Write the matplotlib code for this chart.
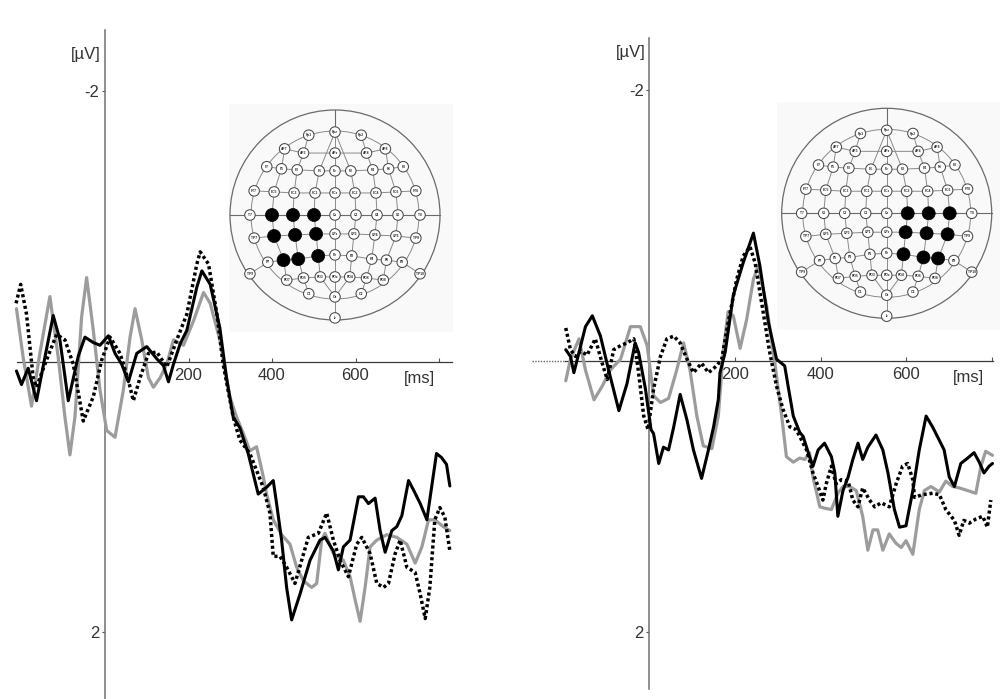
import matplotlib
matplotlib.use("Agg")
import matplotlib.pyplot as plt
from matplotlib.patches import Circle, Rectangle

plt.rcParams['font.family'] = ['Liberation Sans', 'DejaVu Sans']

# ---------------- data (time in ms, amplitude in microvolts) ----------------
# Left panel
L_black_t = [-212, -200, -184, -164, -144, -124, -108, -88, -64, -48, -28, -12, 8, 24, 40, 56, 76, 100, 124, 140,
             152, 164, 180, 196, 220, 232, 252, 275, 291, 307, 323, 343, 367, 387, 403, 411, 423, 435, 447, 467,
             491, 515, 527, 547, 559, 571, 587, 607, 619, 631, 647, 659, 671, 687, 699, 711, 727, 739, 755, 771,
             786, 794, 806, 818, 826]
L_black_v = [0.07, 0.17, 0.05, 0.29, -0.03, -0.34, -0.16, 0.29, -0.04, -0.18, -0.14, -0.12, -0.19, -0.06, 0.02, 0.15,
             -0.06, -0.11, -0.02, 0.03, 0.15, 0.02, -0.13, -0.23, -0.55, -0.67, -0.57, -0.25, 0.12, 0.41,
             0.49, 0.68, 0.98, 0.93, 0.88, 1.05, 1.32, 1.67, 1.91, 1.72, 1.47, 1.32, 1.30, 1.40, 1.54, 1.37,
             1.32, 1.00, 1.00, 1.05, 1.01, 1.25, 1.41, 1.25, 1.22, 1.14, 0.88, 0.95, 1.05, 1.17, 0.85, 0.68,
             0.71, 0.76, 0.92]
L_gray_t = [-212, -196, -176, -156, -132, -112, -96, -84, -72, -56, -44, -28, -12, 4, 24, 44, 60, 72, 88, 104,
            116, 132, 148, 164, 188, 212, 236, 252, 275, 299, 315, 331, 347, 363, 379, 387, 403, 423, 443, 459,
            475, 495, 507, 519, 527, 547, 571, 587, 599, 611, 623, 635, 651, 675, 699, 723, 743, 759, 775, 790,
            810, 826]
L_gray_v = [-0.39, -0.03, 0.33, -0.06, -0.48, -0.03, 0.41, 0.69, 0.41, -0.33, -0.62, -0.23, 0.21, 0.51, 0.56, 0.21,
            -0.18, -0.39, -0.16, 0.12, 0.19, 0.12, 0.02, -0.16, -0.12, -0.30, -0.51, -0.43, -0.16, 0.26,
            0.41, 0.53, 0.66, 0.63, 0.85, 0.98, 1.17, 1.28, 1.35, 1.52, 1.62, 1.67, 1.64, 1.32, 1.27, 1.42,
            1.47, 1.59, 1.76, 1.92, 1.67, 1.37, 1.32, 1.28, 1.30, 1.35, 1.49, 1.37, 1.17, 1.17, 1.22, 1.25]
L_dot_t = [-213, -202, -188, -172, -164, -144, -116, -96, -76, -52, -28, -8, 12, 36, 56, 68, 84, 104, 124, 148,
           172, 196, 220, 228, 248, 268, 283, 307, 323, 347, 379, 395, 403, 419, 435, 455, 471, 487,
           511, 531, 547, 563, 583, 603, 615, 635, 651, 667, 679, 695, 707, 723, 743, 755, 767, 778, 790, 802,
           814, 826]
L_dot_v = [-0.43, -0.57, -0.35, 0.12, 0.19, 0.02, -0.20, -0.16, 0.02, 0.44, 0.26, -0.01, -0.18, -0.06, 0.14, 0.29,
           0.12, -0.06, -0.07, 0.04, -0.16, -0.35, -0.72, -0.81, -0.72, -0.35, 0.02, 0.41,
           0.58, 0.68, 0.93, 1.12, 1.44, 1.44, 1.52, 1.64, 1.47, 1.30, 1.27, 1.12, 1.32, 1.47, 1.59, 1.35,
           1.30, 1.42, 1.64, 1.67, 1.64, 1.42, 1.32, 1.52, 1.56, 1.72, 1.90, 1.67, 1.17, 1.08, 1.15, 1.40]

# Right panel
R_black_t = [-195, -184, -176, -164, -149, -133, -114, -95, -71, -52, -33, -25, -9, 4, 10, 22, 33, 45, 57, 72,
             88, 103, 122, 138, 150, 161, 165, 177, 196, 219, 243, 258, 278, 297, 316, 324, 336, 351,
             359, 374, 382, 394, 409, 425, 433, 440, 452, 464, 475, 487, 498, 510, 529, 545, 557, 572, 584,
             599, 615, 630, 646, 661, 677, 688, 700, 712, 727, 743, 758, 770, 781, 793, 801]
R_black_v = [-0.08, -0.03, 0.09, -0.06, -0.25, -0.33, -0.18, 0.07, 0.37, 0.17, -0.13, -0.06, 0.21, 0.51,
             0.54, 0.76, 0.64, 0.66, 0.49, 0.25, 0.44, 0.66, 0.87, 0.66, 0.49, 0.29,
             0.09, -0.06, -0.48, -0.72, -0.94, -0.70, -0.28, -0.01, 0.04, 0.19, 0.41, 0.53,
             0.56, 0.71, 0.78, 0.66, 0.61, 0.71, 0.83, 1.15, 0.96, 0.86, 0.73, 0.61, 0.73, 0.64, 0.55, 0.66,
             0.83, 1.10, 1.23, 1.22, 0.96, 0.66, 0.41, 0.49, 0.59, 0.66, 0.86, 0.93, 0.76, 0.72, 0.68, 0.75,
             0.83, 0.78, 0.76]
R_gray_t = [-195, -184, -164, -149, -129, -110, -91, -67, -44, -21, -5, 10, 26, 45, 64, 80, 95, 111, 126, 146,
            161, 173, 184, 196, 212, 227, 243, 254, 274, 293, 309, 320,
            336, 351, 363, 374, 382, 398, 409, 425, 440, 452, 467, 483, 498, 510, 522, 533, 545, 560, 576, 588,
            599, 615, 630, 642, 657, 677, 692, 708, 723, 743, 762, 774, 785, 801]
R_gray_v = [0.15, -0.01, -0.16, 0.07, 0.29, 0.19, 0.07, -0.01, -0.25, -0.25, -0.11, 0.26, 0.31, 0.28, 0.07, -0.13,
            0.07, 0.41, 0.63, 0.65, 0.41, -0.08, -0.36, -0.33, -0.09, -0.30, -0.60, -0.70, -0.40, 0.02, 0.41, 0.71,
            0.75, 0.72, 0.73, 0.68, 0.86, 1.08, 1.09, 1.10, 0.98, 0.93, 0.93, 0.96, 1.15, 1.40, 1.25, 1.25,
            1.40, 1.28, 1.35, 1.38, 1.33, 1.43, 1.10, 0.96, 0.93, 0.97, 0.89, 0.93, 0.94, 0.96, 0.98, 0.78,
            0.67, 0.70]
R_dot_t = [-195, -184, -172, -160, -145, -126, -110, -98, -83, -67, -52, -36, -25, -13, -3, 10, 26, 41, 57, 72,
           88, 103, 122, 138, 157, 169, 184, 204, 219, 235, 247, 262, 281, 297, 312, 328, 343,
           367, 382, 394, 405, 413, 425, 436, 448, 464, 475, 487, 498, 514, 526, 541, 560, 576, 591, 603, 615,
           619, 638, 661, 677, 692, 712, 723, 734, 747, 762, 778, 789, 797]
R_dot_v = [-0.24, -0.08, -0.03, -0.07, -0.04, -0.16, 0.02, 0.14, -0.08, -0.11, -0.13, -0.16, 0.09, 0.41, 0.51,
           0.21, -0.03, -0.16, -0.18, -0.13, -0.01, 0.09, 0.02, 0.09, 0.04, -0.01, -0.28, -0.60, -0.77, -0.84,
           -0.72, -0.43, -0.06, 0.19, 0.36, 0.49, 0.51,
           0.66, 0.83, 0.93, 1.03, 0.91, 0.78, 0.91, 0.88, 0.89, 1.03, 1.08, 0.94, 1.03, 1.08, 1.05, 1.08,
           0.91, 0.78, 0.76, 0.88, 1.01, 0.99, 0.98, 0.99, 1.10, 1.18, 1.29, 1.18, 1.20, 1.17, 1.15, 1.23, 1.03]

x_ticks = [200, 400, 600, 800]
x_ticklabels = ['200', '400', '600', '']
y_ticks = [-2, 2]
y_ticklabels = ['-2', '2']
x_unit = '[ms]'
y_unit = '[\u00b5V]'

left_active = ['C5', 'C3', 'C1', 'CP5', 'CP3', 'CP1', 'P5', 'P3', 'P1']
right_active = ['C2', 'C4', 'C6', 'CP2', 'CP4', 'CP6', 'P2', 'P4', 'P6']

# ---------------- electrode montage geometry (unit head radius) ----------------
half = {
    'Fp': (-0.25, 0.76),
    'AF7': (-0.48, 0.63), 'AF3': (-0.30, 0.59),
    'F7': (-0.65, 0.46), 'F5': (-0.51, 0.44), 'F3': (-0.36, 0.43), 'F1': (-0.15, 0.42),
    'FT7': (-0.77, 0.23), 'FC5': (-0.58, 0.22), 'FC3': (-0.39, 0.21), 'FC1': (-0.19, 0.21),
    'T7': (-0.81, 0.0), 'C5': (-0.60, 0.0), 'C3': (-0.40, 0.0), 'C1': (-0.20, 0.0),
    'TP7': (-0.77, -0.22), 'CP5': (-0.58, -0.20), 'CP3': (-0.38, -0.19), 'CP1': (-0.18, -0.18),
    'P7': (-0.64, -0.45), 'P5': (-0.49, -0.43), 'P3': (-0.35, -0.42), 'P1': (-0.16, -0.39),
    'TP9': (-0.81, -0.56),
    'PO7': (-0.46, -0.62), 'PO5': (-0.30, -0.60), 'PO3': (-0.14, -0.59),
    'O1': (-0.25, -0.75),
}
mirror_name = {'Fp': ('Fp1', 'Fp2'), 'TP9': ('TP9', 'TP10')}
pos = {}
for k, (u, v) in half.items():
    if k in mirror_name:
        ln, rn = mirror_name[k]
    else:
        base = k.rstrip('0123456789')
        num = int(k[len(base):])
        ln, rn = k, base + str(num + 1)
    pos[ln] = (u, v)
    pos[rn] = (-u, v)
for k, v in [('Fpz', 0.79), ('AFz', 0.59), ('Fz', 0.42), ('FCz', 0.21), ('Cz', 0.0), ('CPz', -0.18),
             ('Pz', -0.38), ('POz', -0.59), ('Oz', -0.78), ('Iz', -0.98)]:
    pos[k] = (0.0, v)

rows = [
    ['AF7', 'AF3', 'AFz', 'AF4', 'AF8'],
    ['F7', 'F5', 'F3', 'F1', 'Fz', 'F2', 'F4', 'F6', 'F8'],
    ['FT7', 'FC5', 'FC3', 'FC1', 'FCz', 'FC2', 'FC4', 'FC6', 'FT8'],
    ['TP7', 'CP5', 'CP3', 'CP1', 'CPz', 'CP2', 'CP4', 'CP6', 'TP8'],
    ['P7', 'P5', 'P3', 'P1', 'Pz', 'P2', 'P4', 'P6', 'P8'],
    ['PO7', 'PO5', 'PO3', 'POz', 'PO4', 'PO6', 'PO8'],
    ['Fpz', 'AFz', 'Fz', 'FCz', 'Cz', 'CPz', 'Pz', 'POz', 'Oz', 'Iz'],
    ['AF7', 'F5', 'FC5', 'C5', 'CP5', 'P5', 'PO7'],
    ['AF8', 'F6', 'FC6', 'C6', 'CP6', 'P6', 'PO8'],
    ['Fp1', 'AF3', 'F3', 'FC3', 'C3', 'CP3', 'P3', 'PO5', 'O1'],
    ['Fp2', 'AF4', 'F4', 'FC4', 'C4', 'CP4', 'P4', 'PO6', 'O2'],
    ['Fpz', 'F1', 'FC1', 'C1', 'CP1', 'P1', 'PO3', 'Oz'],
    ['Fpz', 'F2', 'FC2', 'C2', 'CP2', 'P2', 'PO4', 'Oz'],
    ['TP9', 'P7'], ['TP10', 'P8'],
]

W, H = 1000, 699
fig = plt.figure(figsize=(W / 100, H / 100), dpi=100)


def px_axes(x0, y0, x1, y1):
    return fig.add_axes([x0 / W, 1 - y1 / H, (x1 - x0) / W, (y1 - y0) / H])


def erp_panel(box, xlim, ylim, ybounds, xbounds, series, ms_t, uv_v, ext=None):
    ax = px_axes(*box)
    ax.set_xlim(*xlim)
    ax.set_ylim(*ylim)
    ax.patch.set_alpha(0)
    ax.set_axisbelow(True)
    for s in ['top', 'right']:
        ax.spines[s].set_visible(False)
    ax.spines['left'].set_position(('data', 0))
    ax.spines['bottom'].set_position(('data', 0))
    ax.spines['left'].set_bounds(*ybounds)
    ax.spines['bottom'].set_bounds(*xbounds)
    ax.spines['left'].set_color('#707070')
    ax.spines['left'].set_linewidth(1.1)
    ax.spines['bottom'].set_color('#3a3a3a')
    ax.spines['bottom'].set_linewidth(0.9)
    ax.set_xticks(x_ticks, x_ticklabels)
    ax.set_yticks(y_ticks, y_ticklabels)
    ax.tick_params(axis='x', direction='in', length=3, width=0.8, pad=5, labelsize=12,
                   colors='#555555', labelcolor='#333333')
    ax.tick_params(axis='y', direction='out', length=2, width=0.8, pad=2, labelsize=12,
                   colors='#555555', labelcolor='#333333')
    if ext is not None:
        ax.plot(ext, [0, 0], color='#666666', lw=1.0, ls=(0, (1, 1)), zorder=1)
    (gt, gv), (dt, dv), (bt, bv) = series
    ax.plot(gt, gv, color='#9c9c9c', lw=2.3, solid_joinstyle='round', solid_capstyle='round', zorder=3)
    ax.plot(dt, dv, color='black', lw=2.5, ls=(0, (0.9, 0.8)), dash_capstyle='butt',
            dash_joinstyle='round', zorder=4)
    ax.plot(bt, bv, color='black', lw=2.2, solid_joinstyle='round', solid_capstyle='round', zorder=5)
    ax.text(ms_t, 0.07, x_unit, ha='center', va='top', fontsize=12, color='#333333')
    ax.annotate(y_unit, xy=(0, uv_v), xytext=(-3, 0), textcoords='offset points',
                ha='right', va='center', fontsize=12, color='#333333')
    return ax


def head(box, active):
    ax = px_axes(*box)
    r = 110 / 105
    ax.set_xlim(-r, r)
    ax.set_ylim(-r, r)
    ax.axis('off')
    lc = '#8a8a8a'
    ax.add_patch(Circle((0, 0), 1.0, fill=False, ec='#6a6a6a', lw=0.9, zorder=1))
    ax.add_patch(Circle((0, 0), 0.8, fill=False, ec=lc, lw=0.7, zorder=1))
    ax.plot([-1, 1], [0, 0], color='#6a6a6a', lw=0.8, zorder=1)
    ax.plot([0, 0], [1, pos['Fpz'][1]], color='#6a6a6a', lw=0.8, zorder=1)
    for chain in rows:
        ax.plot([pos[n][0] for n in chain], [pos[n][1] for n in chain], color=lc, lw=0.7, zorder=1)
    for name, (u, v) in pos.items():
        if name in active:
            ax.add_patch(Circle((u, v), 0.062, fc='black', ec='black', lw=0.5, zorder=3))
        else:
            ax.add_patch(Circle((u, v), 0.05, fc='white', ec='#4a4a4a', lw=0.75, zorder=3))
            ax.text(u, v, name, ha='center', va='center', fontsize=2.4, fontweight='bold',
                    color='#2a2a2a', zorder=4)
    return ax


# very light backing behind the head maps
bg = fig.add_axes([0, 0, 1, 1])
bg.set_xlim(0, W)
bg.set_ylim(H, 0)
bg.axis('off')
bg.add_patch(Rectangle((229, 104), 224, 228, fc='#f9f9f9', ec='none'))
bg.add_patch(Rectangle((777, 102), 223, 228, fc='#f9f9f9', ec='none'))

# Left panel: x = 105 + 0.4175 t ; y = 361.5 + 135.3 v  (pixels)
erp_panel((0, 0, 480, 699),
          ((0 - 105) / 0.4175, (480 - 105) / 0.4175),
          ((699 - 361.5) / 135.3, (0 - 361.5) / 135.3),
          ((30 - 361.5) / 135.3, (699 - 361.5) / 135.3),
          ((17 - 105) / 0.4175, (452 - 105) / 0.4175),
          [(L_gray_t, L_gray_v), (L_dot_t, L_dot_v), (L_black_t, L_black_v)],
          752, (55 - 361.5) / 135.3)

# Right panel: x = 649.3 + 0.4285 t ; y = 360.5 + 135.5 v
erp_panel((500, 0, 1000, 699),
          ((500 - 649.3) / 0.4285, (1000 - 649.3) / 0.4285),
          ((699 - 360.5) / 135.5, (0 - 360.5) / 135.5),
          ((38 - 360.5) / 135.5, (689 - 360.5) / 135.5),
          ((565 - 649.3) / 0.4285, (993 - 649.3) / 0.4285),
          [(R_gray_t, R_gray_v), (R_dot_t, R_dot_v), (R_black_t, R_black_v)],
          744, (53 - 360.5) / 135.5,
          ext=[(532 - 649.3) / 0.4285, (565 - 649.3) / 0.4285])

head((225, 105, 445, 325), left_active)
head((776.7, 103.3, 996.7, 323.3), right_active)

fig.savefig('out.png', dpi=100)
